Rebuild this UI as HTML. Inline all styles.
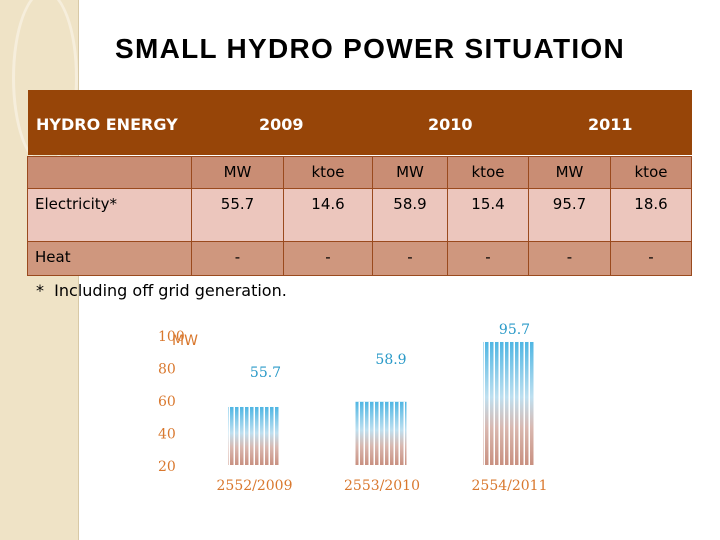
<!DOCTYPE html>
<html><head><meta charset="utf-8"><style>
body{margin:0;width:720px;height:540px;position:relative;background:#fff;font-family:"DejaVu Sans","Liberation Sans",sans-serif;overflow:hidden}
.side{position:absolute;left:0;top:0;width:78px;height:540px;background:#efe3c6;border-right:1px solid #d8c9a6}
.circ{position:absolute;border-radius:50%;border:3px solid #f6eedc}
h1{position:absolute;left:108px;width:524px;top:33px;margin:0;text-align:center;font:bold 28px "Liberation Sans",sans-serif;letter-spacing:1.3px;color:#000;white-space:nowrap}
.c{position:absolute;box-sizing:border-box;font-size:15px;text-align:center;border:1px solid #9a4a1e;margin:-1px 0 0 -1px}
.hdr{position:absolute;left:28px;top:90px;width:664px;height:65px;background:#974508}
.ht{position:absolute;top:115px;color:#fff;font-weight:bold;font-size:16px}
.note{position:absolute;left:36px;top:281px;font-size:16px}
svg{position:absolute;left:0;top:0}
</style></head><body>
<div class="side"></div>
<div class="circ" style="left:12px;top:-10px;width:60px;height:170px"></div>
<h1>SMALL HYDRO POWER SITUATION</h1>
<div class="hdr"></div>
<div class="ht" style="left:36px">HYDRO ENERGY</div>
<div class="ht" style="left:259px">2009</div>
<div class="ht" style="left:428px">2010</div>
<div class="ht" style="left:588px">2011</div>
<div id="tbl"></div>
<div class="note">*&nbsp; Including off grid generation.</div>
<svg id="chart" width="720" height="540">
<defs>
<linearGradient id="g" x1="0" y1="0" x2="0" y2="1"><stop offset="0" stop-color="#4fb6e3"/><stop offset="0.45" stop-color="#bfe0f0"/><stop offset="0.7" stop-color="#d9b8b0"/><stop offset="1" stop-color="#c99080"/></linearGradient>
<pattern id="st" width="5" height="10" patternUnits="userSpaceOnUse"><rect x="3.5" width="1.5" height="10" fill="#fff"/></pattern>
</defs>
</svg>
<script>
const tb=document.getElementById('tbl');
const colX=[28,192,284,373,448,529,611,692];
const rowY=[157,189,242,276];
const rowBg=['#c98d74','#ecc6bd','#cf977e'];
const cells=[["","MW","ktoe","MW","ktoe","MW","ktoe"],["Electricity*","55.7","14.6","58.9","15.4","95.7","18.6"],["Heat","-","-","-","-","-","-"]];
cells.forEach((row,r)=>row.forEach((t,c)=>{
const d=document.createElement('div');
d.className='c';


d.style.left=colX[c]+'px';d.style.top=rowY[r]+'px';
d.style.width=(colX[c+1]-colX[c]+1)+'px';d.style.height=(rowY[r+1]-rowY[r]+1)+'px';
d.style.background=rowBg[r];
d.style.paddingTop=(r==1?6:6)+'px';
if(c==0){d.style.textAlign='left';d.style.paddingLeft='7px';}
d.textContent=t;tb.appendChild(d);
}));
const categories=["2552/2009","2553/2010","2554/2011"];
const values=[55.7,58.9,95.7];
const ticks=[20,40,60,80,100];
const svg=document.getElementById('chart');
const NS="http://www.w3.org/2000/svg";
const y=v=>465-(v-20)*1.625;
const xs=i=>228+i*127.5;
function mk(t,a,txt){const e=document.createElementNS(NS,t);for(const k in a)e.setAttribute(k,a[k]);if(txt!=null)e.textContent=txt;svg.appendChild(e);return e;}
ticks.forEach(t=>{
const e=mk('text',{x:158,y:y(t)+6,'font-size':14,fill:'#d9782e','font-family':'DejaVu Serif, Liberation Serif, serif'},String(t));


});
const u=mk('text',{x:172,y:345,'font-size':14,fill:'#d9782e','font-family':'DejaVu Sans, sans-serif'},'MW');


values.forEach((v,i)=>{
const x=xs(i),w=51;
const b=mk('rect',{x:x,y:y(v),width:w,height:465-y(v),fill:'url(#g)'});


mk('rect',{x:x,y:y(v),width:w,height:465-y(v),fill:'url(#st)'});
const l=mk('text',{x:x+w/2+(i==0?12:(i==1?10:6)),y:y(v)-(i==2?8:(i==1?38:30)),'font-size':14,fill:'#2a9ac8','text-anchor':'middle','font-family':'DejaVu Serif, serif'},String(v));


const c=mk('text',{x:x+w/2+1,y:490,'font-size':14,fill:'#d9782e','text-anchor':'middle','font-family':'DejaVu Serif, serif'},categories[i]);


});
</script>
</body></html>
